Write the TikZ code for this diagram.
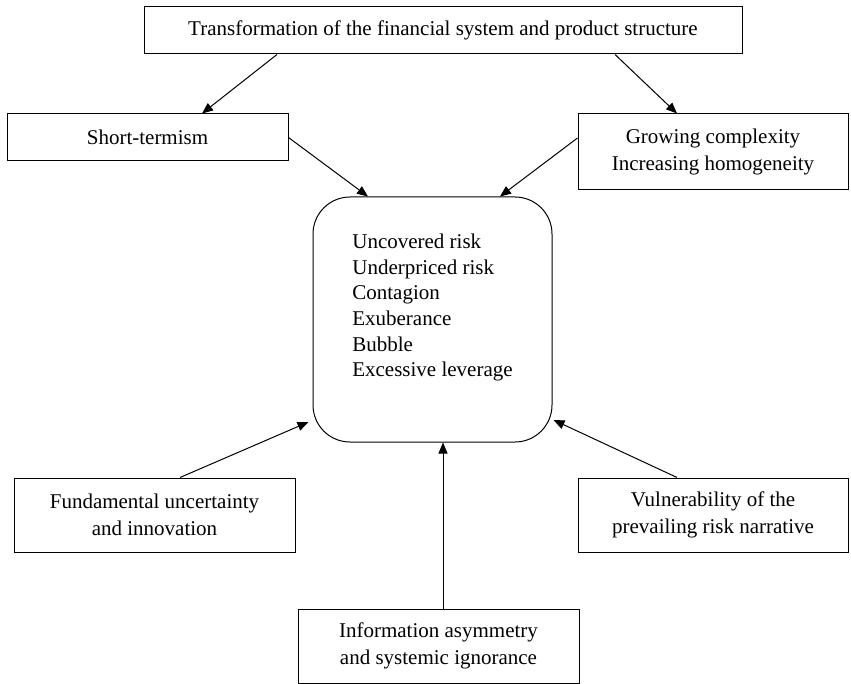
\documentclass[tikz,border=0pt]{standalone}
\usepackage{fontspec}
\setmainfont{Liberation Serif}
\usetikzlibrary{arrows.meta}
\tikzset{
  boxnode/.style={draw, line width=1pt, rectangle, align=center, inner sep=0pt,
    font=\fontsize{21}{26.5}\selectfont},
  ctrbox/.style={draw, line width=1pt, rectangle, rounded corners=37pt, inner sep=0pt,
    minimum width=239pt, minimum height=245pt, font=\fontsize{21}{25.7}\selectfont},
  arr/.style={line width=1pt, -{Triangle[length=11pt,width=9pt]}}
}
\begin{document}
\begin{tikzpicture}[x=1pt,y=-1pt]
\useasboundingbox (0,0) rectangle (851,684);
\node[boxnode, minimum width=598pt, minimum height=47pt] (top) at (443,30.5)
  {Transformation of the financial system and product structure};
\node[boxnode, minimum width=281pt, minimum height=47pt] (short) at (147.5,137.5)
  {Short-termism};
\node[boxnode, minimum width=270pt, minimum height=76pt] (grow) at (713,152)
  {Growing complexity\\Increasing homogeneity};
\node[ctrbox] (ctr) at (432.5,319.5)
  {\begin{tabular}{@{}l@{}}Uncovered risk\\Underpriced risk\\Contagion\\Exuberance\\Bubble\\Excessive leverage\\[24pt]\end{tabular}};
\node[boxnode, minimum width=281pt, minimum height=74pt] (fund) at (154.5,515)
  {Fundamental uncertainty\\and innovation};
\node[boxnode, minimum width=270pt, minimum height=74pt] (vuln) at (713,515)
  {Vulnerability of the\\prevailing risk narrative};
\node[boxnode, minimum width=281pt, minimum height=74pt] (info) at (438.5,646)
  {Information asymmetry\\and systemic ignorance};
\draw[arr] ([xshift=-166pt]top.south) -- ([xshift=54.5pt]short.north);
\draw[arr] ([xshift=172pt]top.south) -- ([xshift=-36pt]grow.north);
\draw[arr] (short.east) -- ([xshift=-64.5pt]ctr.north);
\draw[arr] ([yshift=14pt]grow.west) -- ([xshift=67.5pt]ctr.north);
\draw[arr] ([xshift=25.5pt]fund.north) -- ([xshift=-4pt,yshift=-102.5pt]ctr.west);
\draw[arr] ([xshift=-36pt]vuln.north) -- ([xshift=1pt,yshift=-100.5pt]ctr.east);
\draw[arr] ([xshift=4.5pt]info.north) -- ([xshift=10.5pt]ctr.south);
\end{tikzpicture}
\end{document}
